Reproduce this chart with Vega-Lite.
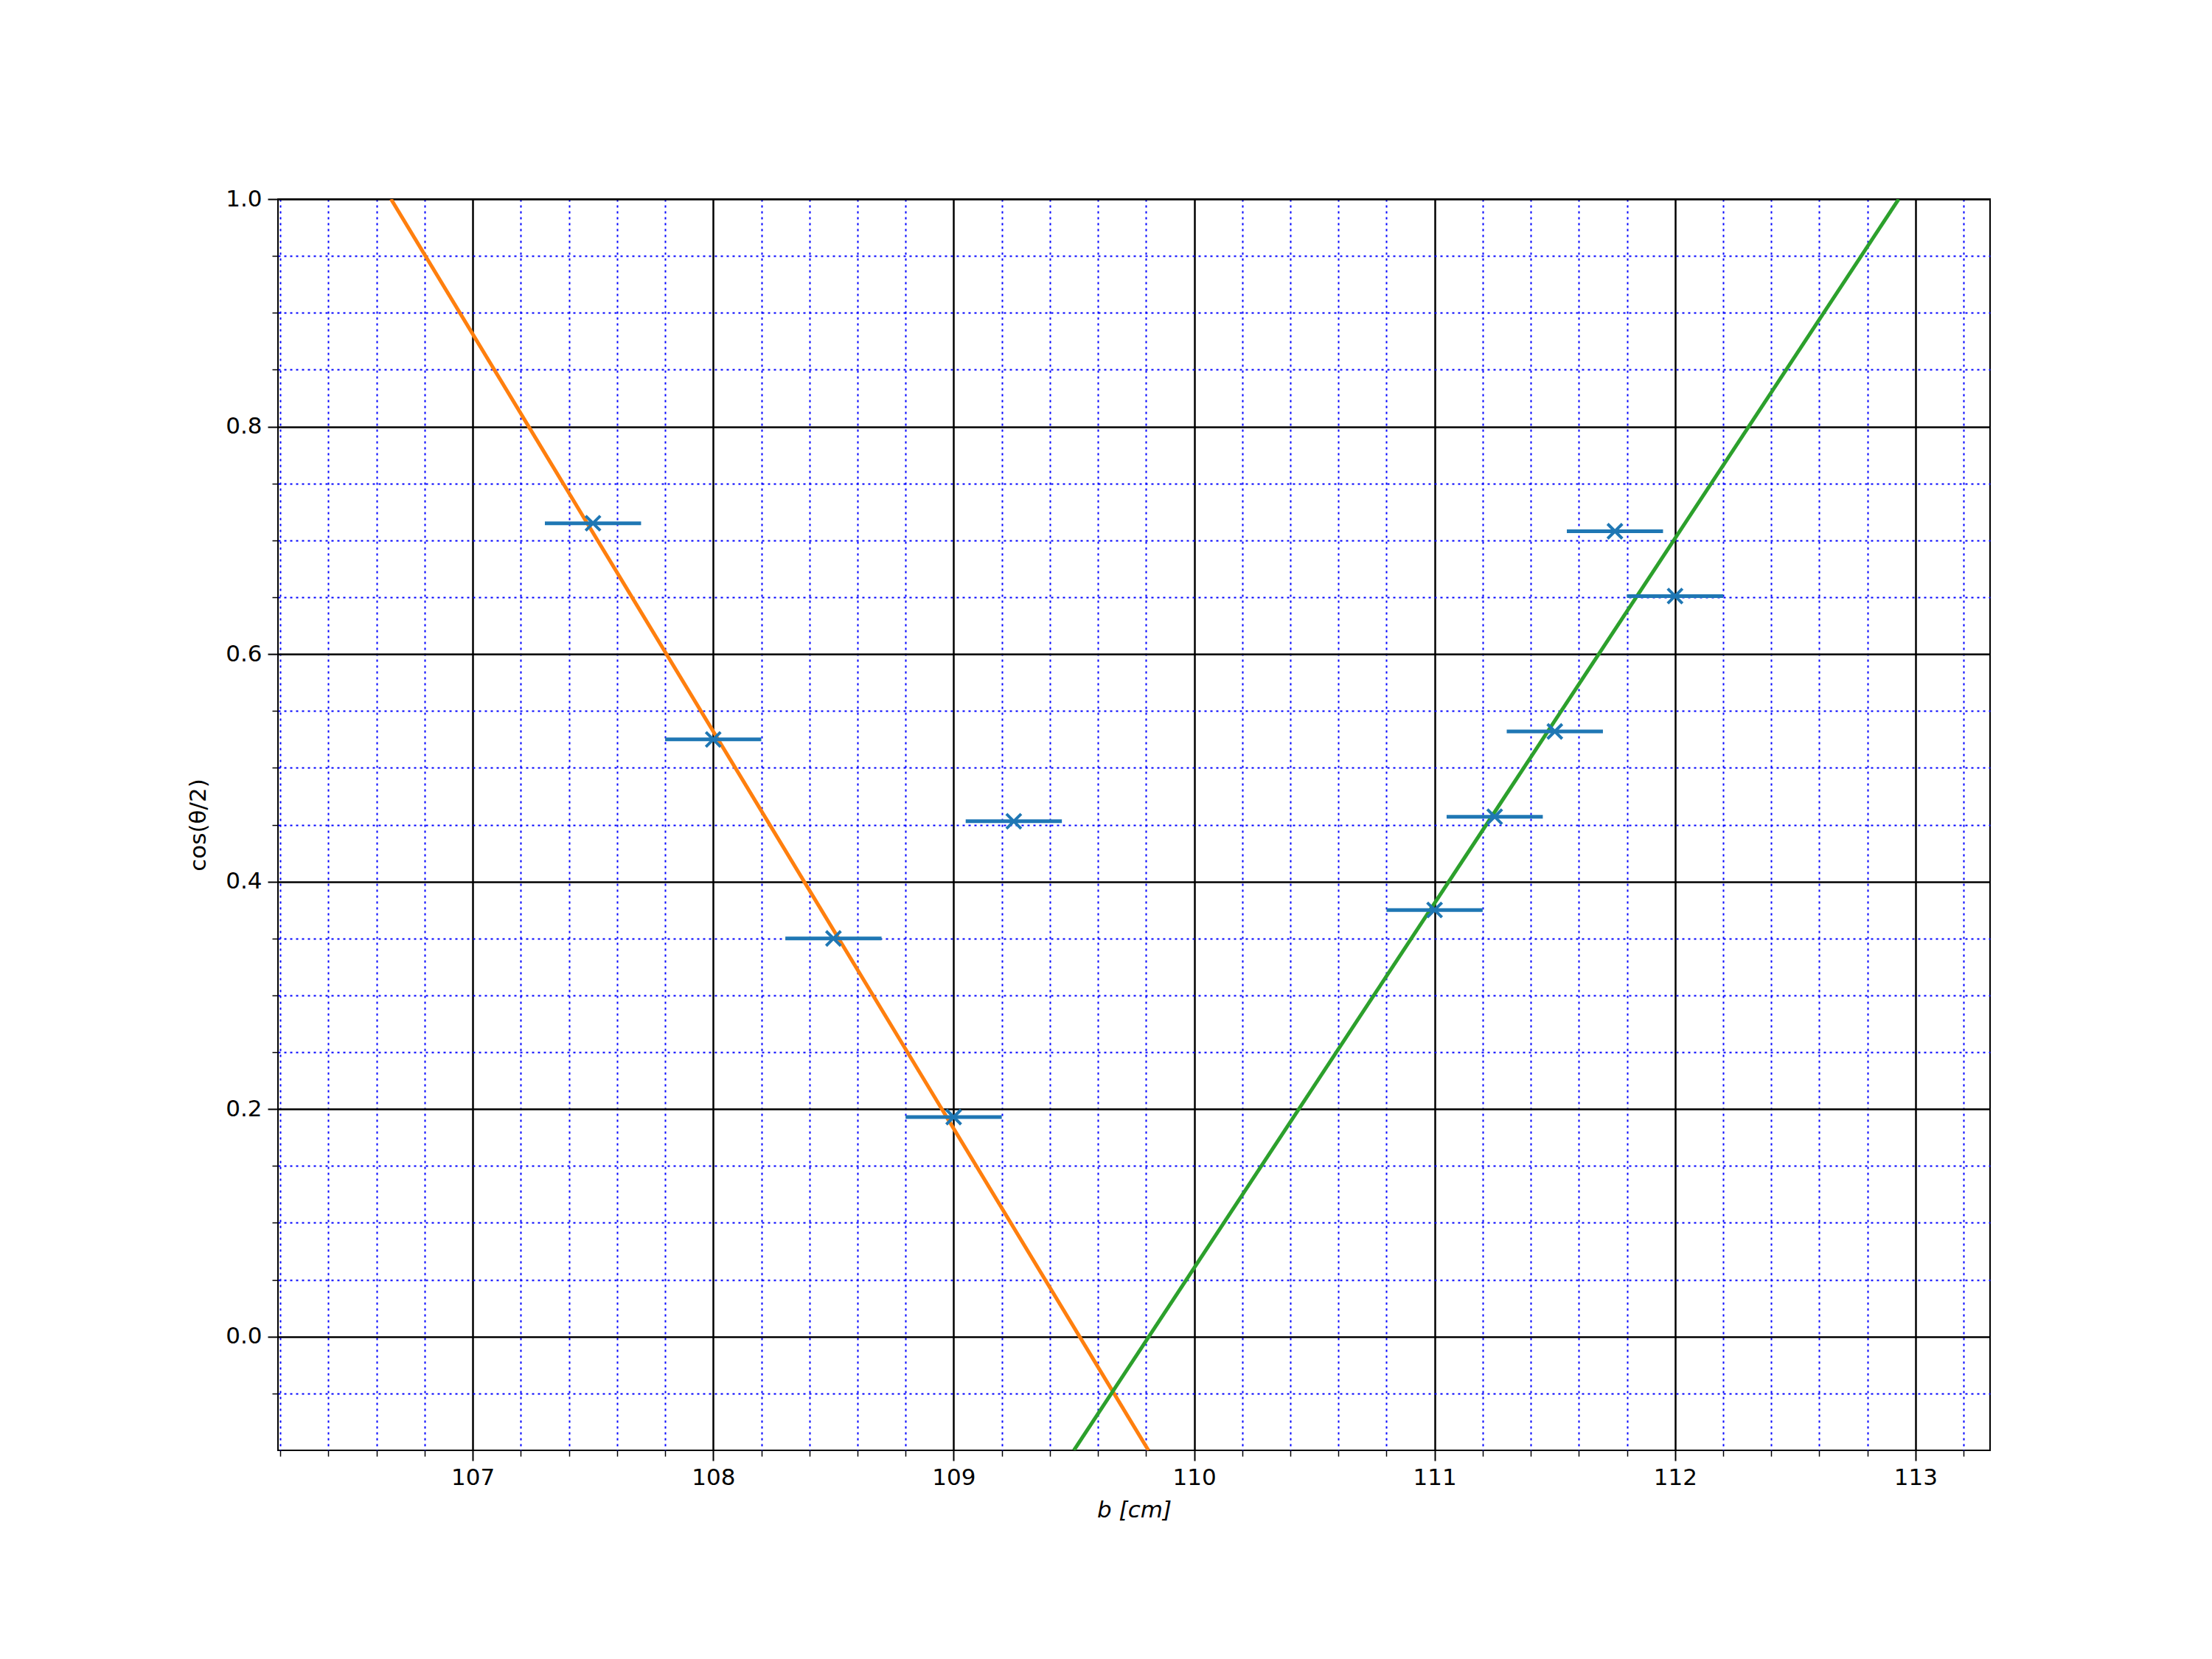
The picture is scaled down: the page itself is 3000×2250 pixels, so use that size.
{
  "$schema": "https://vega.github.io/schema/vega-lite/v6.json",
  "width": 2322,
  "height": 1697,
  "padding": {"left": 377, "top": 270, "right": 300, "bottom": 280},
  "autosize": "none",
  "background": "white",
  "config": {
    "view": {"stroke": "black", "strokeWidth": 2},
    "axis": {"labelFont": "DejaVu Sans", "titleFont": "DejaVu Sans", "labelFontSize": 31, "titleFontSize": 31, "titleFontWeight": "normal", "labelColor": "black", "titleColor": "black", "domain": false}
  },
  "datasets": {
    "pts": [
      {"b": 107.5, "lo": 107.3, "hi": 107.7, "c": 0.715},
      {"b": 108.0, "lo": 107.8, "hi": 108.2, "c": 0.525},
      {"b": 108.5, "lo": 108.3, "hi": 108.7, "c": 0.35},
      {"b": 109.0, "lo": 108.8, "hi": 109.2, "c": 0.193},
      {"b": 109.25, "lo": 109.05, "hi": 109.45, "c": 0.453},
      {"b": 111.0, "lo": 110.8, "hi": 111.2, "c": 0.375},
      {"b": 111.25, "lo": 111.05, "hi": 111.45, "c": 0.457},
      {"b": 111.5, "lo": 111.3, "hi": 111.7, "c": 0.532},
      {"b": 111.75, "lo": 111.55, "hi": 111.95, "c": 0.708},
      {"b": 112.0, "lo": 111.8, "hi": 112.2, "c": 0.651}
    ],
    "fits": [
      {"fit": "a", "b": 106.66, "c": 1.0},
      {"fit": "a", "b": 109.81, "c": -0.1},
      {"fit": "g", "b": 109.5, "c": -0.1},
      {"fit": "g", "b": 112.93, "c": 1.0}
    ]
  },
  "resolve": {"axis": {"x": "independent", "y": "independent"}},
  "layer": [
    {
      "data": {"name": "pts"},
      "mark": {"type": "point", "opacity": 0},
      "encoding": {
        "x": {"field": "b", "type": "quantitative", "scale": {"domain": [106.19, 113.31], "nice": false, "zero": false},
          "axis": {"orient": "bottom", "title": null, "labels": false, "grid": true, "values": [106.2,106.4,106.6,106.8,107.2,107.4,107.6,107.8,108.2,108.4,108.6,108.8,109.2,109.4,109.6,109.8,110.2,110.4,110.6,110.8,111.2,111.4,111.6,111.8,112.2,112.4,112.6,112.8,113.2],
            "gridColor": "blue", "gridDash": [3, 5], "gridWidth": 2, "tickSize": 8, "tickColor": "black", "tickWidth": 1.5}},
        "y": {"field": "c", "type": "quantitative", "scale": {"domain": [-0.1, 1.0], "nice": false, "zero": false},
          "axis": {"orient": "left", "title": null, "labels": false, "grid": true, "values": [-0.05,0.05,0.1,0.15,0.25,0.3,0.35,0.45,0.5,0.55,0.65,0.7,0.75,0.85,0.9,0.95],
            "gridColor": "blue", "gridDash": [3, 5], "gridWidth": 2, "tickSize": 8, "tickColor": "black", "tickWidth": 1.5}}
      }
    },
    {
      "data": {"name": "pts"},
      "mark": {"type": "point", "opacity": 0},
      "encoding": {
        "x": {"field": "b", "type": "quantitative", "scale": {"domain": [106.19, 113.31], "nice": false, "zero": false},
          "axis": {"orient": "bottom", "title": "b [cm]", "titleFontStyle": "italic", "titlePadding": 14, "grid": true, "values": [107,108,109,110,111,112,113], "format": "d",
            "gridColor": "black", "gridWidth": 2.5, "tickSize": 14, "tickColor": "black", "tickWidth": 2, "labelPadding": 8}},
        "y": {"field": "c", "type": "quantitative", "scale": {"domain": [-0.1, 1.0], "nice": false, "zero": false},
          "axis": {"orient": "left", "title": "cos(θ/2)", "titlePadding": 20, "grid": true, "values": [0,0.2,0.4,0.6,0.8,1.0], "format": ".1f",
            "gridColor": "black", "gridWidth": 2.5, "tickSize": 14, "tickColor": "black", "tickWidth": 2, "labelPadding": 8}}
      }
    },
    {
      "data": {"name": "fits"},
      "mark": {"type": "line", "strokeWidth": 5, "clip": true},
      "encoding": {
        "x": {"field": "b", "type": "quantitative", "axis": null},
        "y": {"field": "c", "type": "quantitative", "axis": null},
        "color": {"field": "fit", "type": "nominal", "scale": {"domain": ["a", "g"], "range": ["#ff7f0e", "#2ca02c"]}, "legend": null}
      }
    },
    {
      "data": {"name": "pts"},
      "mark": {"type": "rule", "color": "#1f77b4", "strokeWidth": 5},
      "encoding": {
        "x": {"field": "lo", "type": "quantitative", "axis": null},
        "x2": {"field": "hi"},
        "y": {"field": "c", "type": "quantitative", "axis": null}
      }
    },
    {
      "data": {"name": "pts"},
      "mark": {"type": "point", "shape": "M-1,-1L1,1M1,-1L-1,1", "stroke": "#1f77b4", "strokeWidth": 4, "size": 400, "opacity": 1, "filled": false},
      "encoding": {
        "x": {"field": "b", "type": "quantitative", "axis": null},
        "y": {"field": "c", "type": "quantitative", "axis": null}
      }
    }
  ]
}
